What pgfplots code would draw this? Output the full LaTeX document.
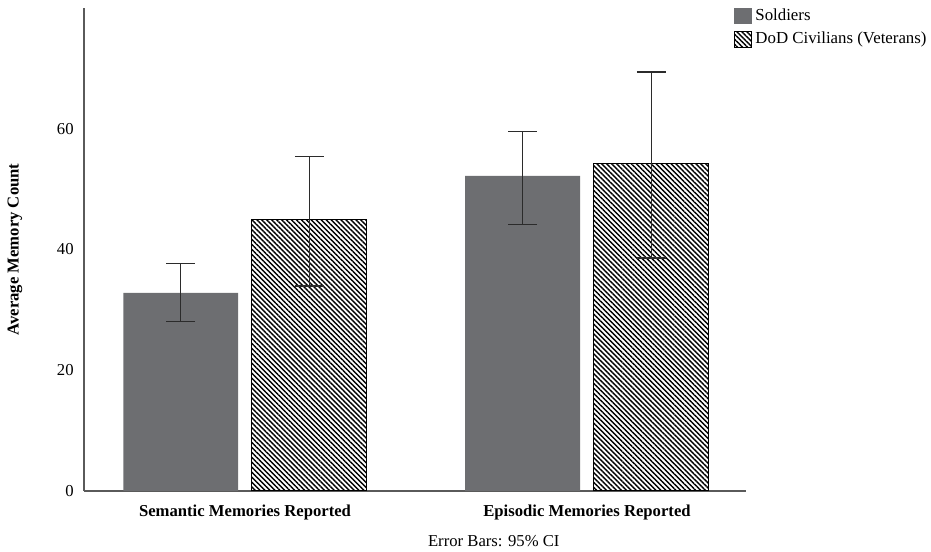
\documentclass[border=0pt]{standalone}
\usepackage{fontspec}
\setmainfont{Liberation Serif}
\usepackage{pgfplots}
\pgfplotsset{compat=1.18}
\usetikzlibrary{patterns.meta}
\definecolor{soldier}{HTML}{6D6E71}
\definecolor{axisgray}{HTML}{5A5A5A}
\definecolor{errc}{HTML}{2B2B2B}
\begin{document}
\begin{tikzpicture}
\useasboundingbox (-50.4pt,-36.6pt) rectangle (508.2pt,294.6pt);
\begin{axis}[
  at={(0,0)}, anchor=south west,
  scale only axis, width=397.2pt, height=289.8pt,
  xmin=-0.4708, xmax=1.465, ymin=0, ymax=80,
  axis x line*=bottom, axis y line*=left,
  axis line style={axisgray, line width=0.8pt, -},
  xtick={0,1},
  xticklabels={\textbf{Semantic Memories Reported},\textbf{Episodic Memories Reported}},
  ytick={0,20,40,60},
  major tick length=0pt,
  /pgf/number format/assume math mode=true,
  tick label style={font=\fontsize{10}{12}\selectfont},
  yticklabel style={xshift=-2.7pt},
  xticklabel style={yshift=-5pt},
  every axis y label/.style={at={(axis description cs:-0.1042,0.5)}, rotate=90, anchor=center},
  ylabel={\textbf{Average Memory Count}},
  legend style={at={(0.981,1.006)}, anchor=north west, draw=none, fill=none,
    inner xsep=0pt, inner ysep=0pt, row sep=1.5pt, cells={anchor=west},
    font=\fontsize{10.1}{12}\selectfont},
  legend cell align=left,
  clip=false,
]
\addplot[ybar, bar width=0.336, fill=soldier, draw=none,
  legend image code/.code={\fill[soldier] (0pt,-5pt) rectangle (11pt,5pt);},
  error bars/.cd, y dir=both, y explicit,
  error bar style={errc, line width=0.7pt},
  error mark options={errc, line width=0.7pt, mark size=8.7pt, rotate=90}]
coordinates {
  (-0.188,32.8) += (0,4.9) -= (0,4.7)
  (0.812,52.2) += (0,7.3) -= (0,8.1)
};
\addlegendentry{Soldiers}
\addplot[ybar, bar width=0.336, draw=black, line width=0.6pt,
  pattern={Lines[angle=-45, distance=2.1pt, line width=0.85pt]}, pattern color=black,
  legend image code/.code={\draw[black, line width=0.5pt, pattern={Lines[angle=-45, distance=2.1pt, line width=0.85pt]}] (0.25pt,-4.75pt) rectangle (10.75pt,4.75pt);},
  error bars/.cd, y dir=both, y explicit,
  error bar style={errc, line width=0.7pt},
  error mark options={errc, line width=0.7pt, mark size=8.7pt, rotate=90}]
coordinates {
  (0.188,44.9) += (0,10.5) -= (0,10.95)
  (1.188,54.2) += (0,15.2) -= (0,15.6)
};
\addlegendentry{DoD Civilians (Veterans)}
\node[font=\fontsize{10}{12}\selectfont] at (axis description cs:0.619,-0.1035) {Error Bars: 95\% CI};
\end{axis}
\end{tikzpicture}
\end{document}
